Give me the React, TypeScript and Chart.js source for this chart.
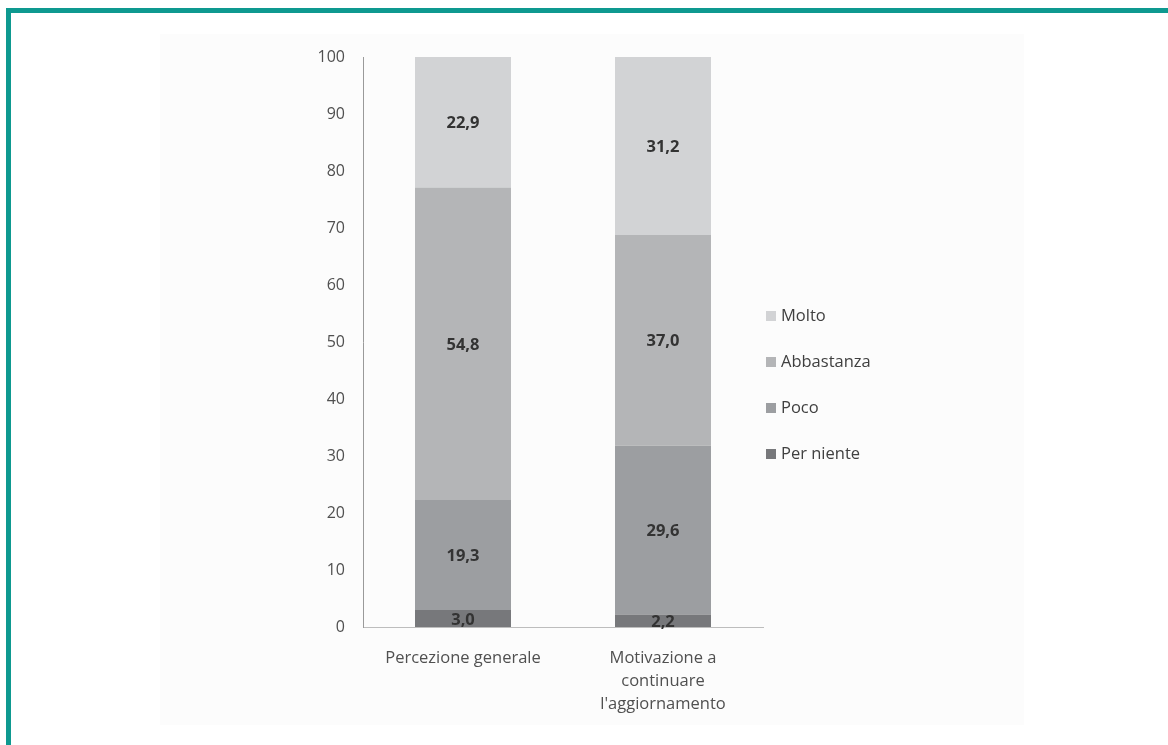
import React, { useEffect, useRef } from "react";
import { Chart, registerables } from "chart.js";

Chart.register(...registerables);

const categories: (string | string[])[] = [
  "Percezione generale",
  ["Motivazione a", "continuare", "l'aggiornamento"],
];
const perNiente = [3.0, 2.2];
const poco = [19.3, 29.6];
const abbastanza = [54.8, 37.0];
const molto = [22.9, 31.2];
const yTicks = [0, 10, 20, 30, 40, 50, 60, 70, 80, 90, 100];

const FONT = "'Open Sans', 'DejaVu Sans', sans-serif";

const dataLabelPlugin = {
  id: "dataLabels",
  afterDatasetsDraw(chart: any) {
    const ctx = chart.ctx;
    ctx.save();
    ctx.font = `bold 16.5px ${FONT}`;
    ctx.fillStyle = "#333333";
    ctx.textAlign = "center";
    ctx.textBaseline = "middle";
    chart.data.datasets.forEach((ds: any, di: number) => {
      const meta = chart.getDatasetMeta(di);
      meta.data.forEach((bar: any, i: number) => {
        const { x, y, base } = bar.getProps(["x", "y", "base"], true);
        const v = ds.data[i] as number;
        ctx.fillText(v.toFixed(1).replace(".", ","), x, (y + base) / 2 + 1.5);
      });
    });
    ctx.restore();
  },
};

const legendPlugin = {
  id: "customLegend",
  afterDraw(chart: any) {
    const ctx = chart.ctx;
    const area = chart.chartArea;
    ctx.save();
    ctx.font = `16.5px ${FONT}`;
    ctx.textBaseline = "middle";
    ctx.textAlign = "left";
    const n = chart.data.datasets.length;
    for (let k = 0; k < n; k++) {
      const di = n - 1 - k;
      const ds = chart.data.datasets[di];
      const y = 316 + k * 46;
      const x = area.right + 3;
      ctx.fillStyle = ds.backgroundColor;
      ctx.fillRect(x, y - 5, 10, 10);
      ctx.fillStyle = "#404040";
      ctx.fillText(ds.label, x + 15, y);
    }
    ctx.restore();
  },
};

export default function App() {
  const ref = useRef<HTMLCanvasElement>(null);

  useEffect(() => {
    if (!ref.current) return;
    const chart = new Chart(ref.current, {
      type: "bar",
      data: {
        labels: categories as any,
        datasets: [
          { label: "Per niente", data: perNiente, backgroundColor: "#77787b" },
          { label: "Poco", data: poco, backgroundColor: "#9c9ea1" },
          { label: "Abbastanza", data: abbastanza, backgroundColor: "#b4b5b7" },
          { label: "Molto", data: molto, backgroundColor: "#d2d3d5" },
        ],
      },
      options: {
        responsive: false,
        animation: false,
        layout: { padding: { left: 0, top: 57, right: 405, bottom: 18 } },
        plugins: {
          legend: { display: false },
          tooltip: { enabled: false },
        },
        datasets: {
          bar: { categoryPercentage: 1, barPercentage: 0.48 },
        },
        scales: {
          x: {
            stacked: true,
            grid: { display: false, drawTicks: false },
            border: { display: true, color: "#bdbdbd", width: 1 },
            ticks: {
              padding: 20,
              color: "#505050",
              font: { family: FONT, size: 16.5, lineHeight: 1.4 },
              maxRotation: 0,
              autoSkip: false,
            },
            afterFit(scale: any) {
              scale.height = 100;
            },
          },
          y: {
            stacked: true,
            min: 0,
            max: 100,
            afterBuildTicks(scale: any) {
              scale.ticks = yTicks.map((v) => ({ value: v }));
            },
            grid: { display: false, drawTicks: false },
            border: { display: true, color: "#9a9a9a", width: 1 },
            ticks: {
              padding: 18,
              color: "#505050",
              font: { family: FONT, size: 16 },
            },
            afterFit(scale: any) {
              scale.width = 363;
            },
          },
        },
      },
      plugins: [dataLabelPlugin, legendPlugin],
    });
    return () => chart.destroy();
  }, []);

  return (
    <div
      style={{
        position: "absolute",
        left: 0,
        top: 0,
        width: 1168,
        height: 745,
        background: "#ffffff",
        overflow: "hidden",
      }}
    >
      <div style={{ position: "absolute", left: 6, top: 8, width: 5, height: 737, background: "#0e9990" }} />
      <div style={{ position: "absolute", left: 6, top: 8, width: 1162, height: 5, background: "#0e9990" }} />
      <div style={{ position: "absolute", left: 160, top: 34, width: 864, height: 691, background: "#fcfcfc" }} />
      <canvas
        ref={ref}
        width={1168}
        height={745}
        style={{ position: "absolute", left: 0, top: 0, width: 1168, height: 745 }}
      />
    </div>
  );
}
